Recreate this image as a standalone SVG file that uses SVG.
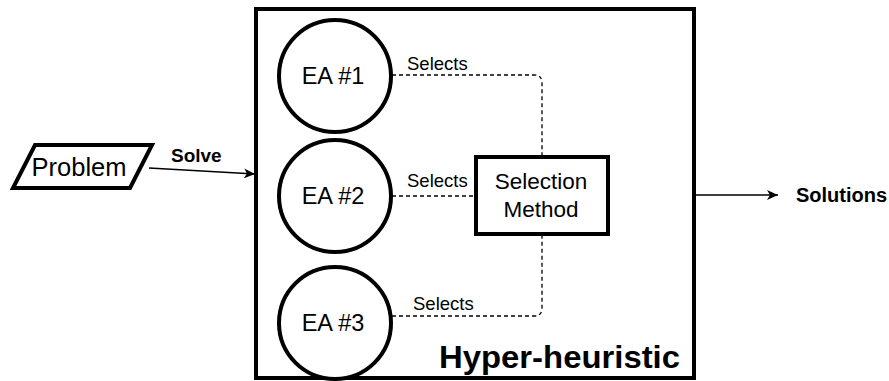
<svg xmlns="http://www.w3.org/2000/svg" width="889" height="381" viewBox="0 0 889 381">
<defs>
<marker id="arr" markerWidth="12" markerHeight="10" refX="11" refY="5" orient="auto" markerUnits="userSpaceOnUse">
<path d="M0,0 L11,5 L0,10 L3,5 Z" fill="#000"/>
</marker>
<style>
.n{fill:#fff;stroke:#000;stroke-width:4}
.t{font-family:"Liberation Sans",Arial,sans-serif;fill:#000;text-anchor:middle}
.l{font-family:"Liberation Sans",Arial,sans-serif;fill:#000;font-size:18.5px}
.b{font-family:"Liberation Sans",Arial,sans-serif;fill:#000;font-weight:bold}
.d{fill:none;stroke:#000;stroke-width:1.3;stroke-dasharray:4 3}
.s{fill:none;stroke:#000;stroke-width:1.3}
</style>
</defs>
<rect width="889" height="381" fill="#fff"/>
<g id="hyper">
<rect x="256" y="9" width="438" height="369" fill="#fff" stroke="#000" stroke-width="4"/>
<text class="b" x="439" y="368" font-size="31" textLength="241" lengthAdjust="spacingAndGlyphs">Hyper-heuristic</text>
</g>
<g id="connectors">
<path class="s" d="M149,168 L255,174" marker-end="url(#arr)"/>
<path class="s" d="M694,195 L778,195" marker-end="url(#arr)"/>
<path class="d" d="M392,75 L534,75 Q542,75 542,83 L542,156"/>
<path class="d" d="M392,196 L475,196"/>
<path class="d" d="M392,316 L534,316 Q542,316 542,308 L542,235"/>
<text class="l" x="407" y="70">Selects</text>
<text class="l" x="407" y="187">Selects</text>
<text class="l" x="413" y="310">Selects</text>
<text class="b" x="171" y="162" font-size="19">Solve</text>
<text class="b" x="796" y="202" font-size="20">Solutions</text>
</g>
<g id="problem">
<polygon class="n" points="35,145 152,145 130,188 13,188"/>
<text class="t" x="79" y="176" font-size="25.5">Problem</text>
</g>
<g id="ea1">
<circle class="n" cx="335" cy="76" r="56"/>
<text class="t" x="333" y="84" font-size="23.5">EA #1</text>
</g>
<g id="ea2">
<circle class="n" cx="335" cy="196" r="56"/>
<text class="t" x="333" y="204" font-size="23.5">EA #2</text>
</g>
<g id="ea3">
<circle class="n" cx="335" cy="323" r="56"/>
<text class="t" x="333" y="331" font-size="23.5">EA #3</text>
</g>
<g id="selection">
<rect class="n" x="476" y="157" width="132" height="77"/>
<text class="t" x="541" y="189" font-size="22.5">Selection</text>
<text class="t" x="541" y="217" font-size="22.5">Method</text>
</g>
</svg>
